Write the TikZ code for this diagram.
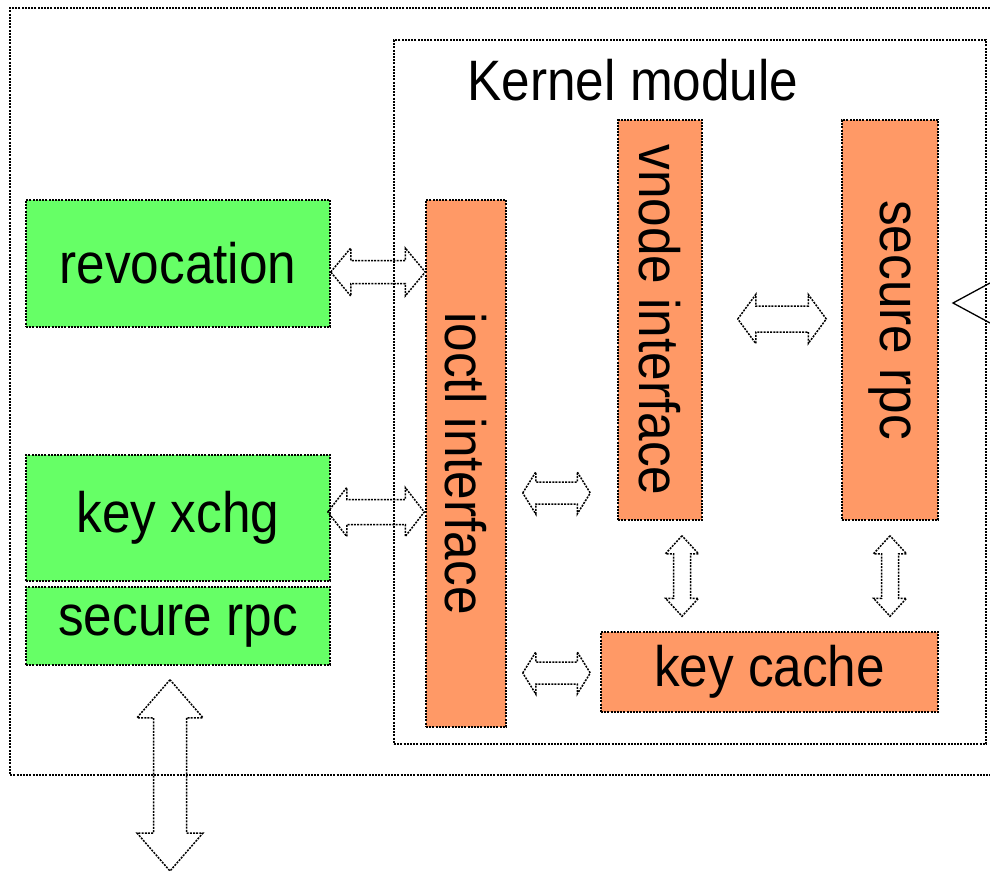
\documentclass[tikz,border=0pt]{standalone}
\usepackage{fontspec}
\setmainfont{Liberation Sans}[FakeStretch=0.9]
\usepackage{graphicx}
\usetikzlibrary{calc}

\definecolor{modgreen}{HTML}{66FF66}
\definecolor{modorange}{HTML}{FF9966}

\tikzset{
  dotline/.style={draw=black, line width=1.5pt, dash pattern=on 2pt off 1.2pt},
  gbox/.style={dotline, fill=modgreen, font=\fontsize{57}{60}\selectfont, inner sep=0pt},
  obox/.style={dotline, fill=modorange, font=\fontsize{57}{60}\selectfont, inner sep=0pt},
  arrowline/.style={draw=black, line width=1.5pt, dash pattern=on 2pt off 1.2pt, line join=miter}
}

% block arrows: tips #1 and #2, half head, half shaft, head length
\newcommand{\hdarrow}[5]{%
  \draw[arrowline] (#1) -- ++(#5,-#3) -- ++(0,#3-#4) -- ($(#2)+(-#5,-#4)$) -- ++(0,#4-#3)
    -- (#2) -- ++(-#5,#3) -- ++(0,#4-#3) -- ($(#1)+(#5,#4)$) -- ++(0,#3-#4) -- cycle;}
\newcommand{\vdarrow}[5]{%
  \draw[arrowline] (#1) -- ++(-#3,#5) -- ++(#3-#4,0) -- ($(#2)+(-#4,-#5)$) -- ++(#4-#3,0)
    -- (#2) -- ++(#3,-#5) -- ++(#4-#3,0) -- ($(#1)+(#4,#5)$) -- ++(#3-#4,0) -- cycle;}

\begin{document}
\begin{tikzpicture}[x=1pt, y=-1pt]

\useasboundingbox (0,0) rectangle (990,872);

% outer box, open on the right
\draw[dotline] (990,8) -- (10,8) -- (10,775) -- (990,775);

% kernel module
\node[dotline, minimum width=592, minimum height=704] (kernel) at (690,392) {};
\node[font=\fontsize{57}{60}\selectfont] (ktitle) at (633,80) {Kernel module};

% user side
\node[gbox, minimum width=304, minimum height=127] (rev)  at (178,263.5) {revocation};
\node[gbox, minimum width=304, minimum height=126] (xchg) at (178,518)   {key xchg};
\node[gbox, minimum width=304, minimum height=78]  (grpc) at (178,626)   {secure rpc};

% kernel side
\node[obox, minimum width=80, minimum height=527] (ioctl) at (466,463.5) {\rotatebox{-90}{ioctl interface}};
\node[obox, minimum width=84, minimum height=400] (vnode) at (660,320)   {\rotatebox{-90}{vnode interface}};
\node[obox, minimum width=96, minimum height=400] (srpc)  at (890,320)   {\rotatebox{-90}{secure rpc}};
\node[obox, minimum width=337, minimum height=80] (cache) at (769.5,672) {key cache};

% arrow end points
\coordinate (a1l) at ($(rev.east)+(0,8.5)$);
\coordinate (a1r) at (ioctl.west |- a1l);
\coordinate (a2l) at ($(xchg.east)+(-3,-6)$);
\coordinate (a2r) at ($(ioctl.west |- a2l)+(-1,0)$);
\coordinate (a3l) at ($(ioctl.east)+(16,29.5)$);
\coordinate (a3r) at ($(vnode.west |- a3l)+(-27,0)$);
\coordinate (a4l) at ($(ioctl.east |- cache.west)+(16,1)$);
\coordinate (a4r) at ($(cache.west)+(-10,1)$);
\coordinate (a5l) at ($(vnode.east)+(35,-1)$);
\coordinate (a5r) at ($(srpc.west)+(-15,-1)$);
\coordinate (a6t) at ($(vnode.south)+(22,15)$);
\coordinate (a6b) at ($(a6t |- cache.north)+(0,-15)$);
\coordinate (a7t) at ($(srpc.south)+(0,15)$);
\coordinate (a7b) at ($(a7t |- cache.north)+(0,-15)$);
\coordinate (a8t) at ($(grpc.south)+(-8,14)$);
\coordinate (a8b) at (170,871);

\hdarrow{a1l}{a1r}{24}{11.5}{20}
\hdarrow{a2l}{a2r}{24.5}{12.5}{19}
\hdarrow{a3l}{a3r}{21}{11}{13}
\hdarrow{a4l}{a4r}{21}{11}{13}
\hdarrow{a5l}{a5r}{24.5}{13}{18}
\vdarrow{a6t}{a6b}{16.5}{8.5}{18}
\vdarrow{a7t}{a7b}{16.5}{8.5}{18}
\vdarrow{a8t}{a8b}{33}{16.5}{38}

% arrow coming in from the right
\draw[line width=1.3pt] (990,283) -- (953,303) -- (990,323);

\end{tikzpicture}
\end{document}
